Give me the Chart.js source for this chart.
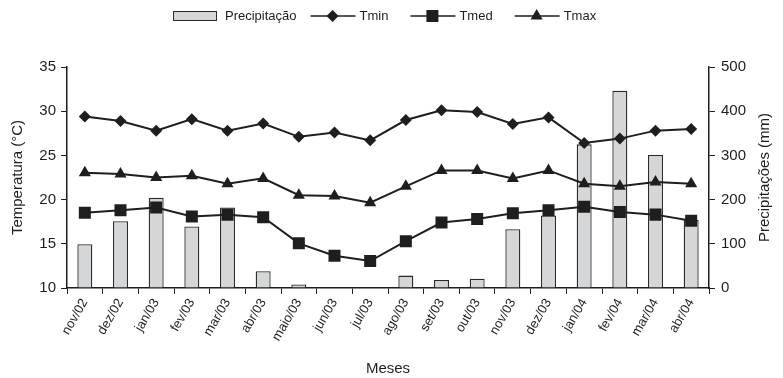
<!DOCTYPE html>
<html>
<head>
<meta charset="utf-8">
<script src="https://cdn.jsdelivr.net/npm/chart.js@4.4.0/dist/chart.umd.min.js"></script>
<style>
  html, body { margin: 0; padding: 0; background: #fff; }
  #wrap { width: 783px; height: 378px; }
</style>
</head>
<body>
<div id="wrap"><canvas id="chart" width="783" height="378"></canvas></div>
<script>
var months = ['nov/02', 'dez/02', 'jan/03', 'fev/03', 'mar/03', 'abr/03', 'maio/03', 'jun/03', 'jul/03',
              'ago/03', 'set/03', 'out/03', 'nov/03', 'dez/03', 'jan/04', 'fev/04', 'mar/04', 'abr/04'];
var precip = [99, 151, 204, 139, 182, 38, 8, 0, 0, 28, 18, 21, 133, 164, 325, 446, 301, 154];
var tmin = [29.4, 28.9, 27.8, 29.1, 27.8, 28.6, 27.1, 27.6, 26.7, 29.0, 30.1, 29.9, 28.55, 29.3, 26.4, 26.9, 27.8, 28.0];
var tmed = [18.5, 18.8, 19.1, 18.1, 18.3, 18.0, 15.05, 13.65, 13.05, 15.3, 17.4, 17.8, 18.45, 18.8, 19.2, 18.6, 18.3, 17.6];
var tmax = [23.05, 22.9, 22.5, 22.7, 21.8, 22.4, 20.5, 20.4, 19.65, 21.5, 23.3, 23.3, 22.4, 23.3, 21.8, 21.5, 22.0, 21.8];

var ink = '#1e1e1e';
var font = 'Liberation Sans, Arial, sans-serif';
Chart.defaults.font.family = font;
Chart.defaults.color = ink;

// legend drawn on the canvas: bar box, then line + marker items
var legendPlugin = {
    id: 'topLegend',
    afterDraw: function (chart) {
        var ctx = chart.ctx;
        var y = 16;
        var x = 173;
        ctx.save();
        ctx.font = '13px ' + font;
        ctx.textBaseline = 'middle';
        chart.data.datasets.forEach(function (ds, i) {
            if (ds.type === 'bar') {
                ctx.fillStyle = ds.backgroundColor;
                ctx.fillRect(x, y - 5, 44, 10);
                ctx.strokeStyle = ds.borderColor;
                ctx.lineWidth = 1;
                ctx.strokeRect(x + 0.5, y - 4.5, 43, 9);
                x += 52;
            } else {
                ctx.strokeStyle = ink;
                ctx.lineWidth = 1.5;
                ctx.beginPath();
                ctx.moveTo(x, y);
                ctx.lineTo(x + 45, y);
                ctx.stroke();
                ctx.fillStyle = ink;
                Chart.helpers.drawPoint(ctx, {
                    pointStyle: ds.pointStyle,
                    radius: ds.pointRadius,
                    borderWidth: 0
                }, x + 22, y);
                x += 49;
            }
            ctx.fillStyle = ink;
            ctx.fillText(ds.label, x, y);
            x += ctx.measureText(ds.label).width + (i === 0 ? 14 : 22);
        });
        ctx.restore();
    }
};

// right axis title reads bottom-to-top, like the left one
var rightTitlePlugin = {
    id: 'rightTitle',
    afterDraw: function (chart) {
        var ctx = chart.ctx;
        var s = chart.scales.y1;
        ctx.save();
        ctx.translate(765, (s.top + s.bottom) / 2);
        ctx.rotate(-Math.PI / 2);
        ctx.font = '15px ' + font;
        ctx.fillStyle = ink;
        ctx.textAlign = 'center';
        ctx.textBaseline = 'middle';
        ctx.fillText('Precipitações (mm)', 0, 0);
        ctx.restore();
    }
};

function lineSet(label, data, style, radius) {
    return {
        type: 'line',
        label: label,
        data: data,
        yAxisID: 'y',
        borderColor: ink,
        borderWidth: 2,
        pointStyle: style,
        pointRadius: radius,
        pointHoverRadius: radius,
        pointBackgroundColor: ink,
        pointBorderColor: ink,
        pointBorderWidth: 0,
        tension: 0,
        order: 1
    };
}

new Chart(document.getElementById('chart'), {
    type: 'bar',
    data: {
        labels: months,
        datasets: [
            {
                type: 'bar',
                label: 'Precipitação',
                data: precip,
                yAxisID: 'y1',
                backgroundColor: '#d4d6d8',
                borderColor: '#2a2a2a',
                borderWidth: 1.3,
                barPercentage: 0.42,
                categoryPercentage: 1,
                order: 2
            },
            lineSet('Tmin', tmin, 'rectRot', 6),
            lineSet('Tmed', tmed, 'rect', 8.5),
            lineSet('Tmax', tmax, 'triangle', 7)
        ]
    },
    options: {
        responsive: false,
        animation: false,
        layout: { padding: { top: 67, left: 0, right: 0, bottom: 0 } },
        plugins: {
            legend: { display: false },
            tooltip: { enabled: false }
        },
        scales: {
            x: {
                offset: true,
                grid: { offset: true, drawOnChartArea: false, tickLength: 6, color: ink },
                border: { color: ink, width: 1.5 },
                ticks: { font: { size: 13 }, maxRotation: 60, minRotation: 60, padding: 2, color: ink },
                title: { display: true, text: 'Meses', font: { size: 15 }, color: ink, padding: { top: 6, bottom: 0 } },
                afterFit: function (s) { s.height = 90; }
            },
            y: {
                position: 'left',
                min: 10, max: 35,
                ticks: { stepSize: 5, font: { size: 15 }, padding: 5, color: ink },
                grid: { drawOnChartArea: false, tickLength: 6, color: ink },
                border: { color: ink, width: 1.5 },
                title: { display: true, text: 'Temperatura (°C)', font: { size: 15 }, color: ink, padding: { top: 9, bottom: 2 } },
                afterFit: function (s) { s.width = 67; }
            },
            y1: {
                position: 'right',
                min: 0, max: 500,
                ticks: { stepSize: 100, font: { size: 15 }, padding: 6, color: ink },
                grid: { drawOnChartArea: false, tickLength: 6, color: ink },
                border: { color: ink, width: 1.5 },
                afterFit: function (s) { s.width = 74; }
            }
        }
    },
    plugins: [legendPlugin, rightTitlePlugin]
});
</script>
</body>
</html>
